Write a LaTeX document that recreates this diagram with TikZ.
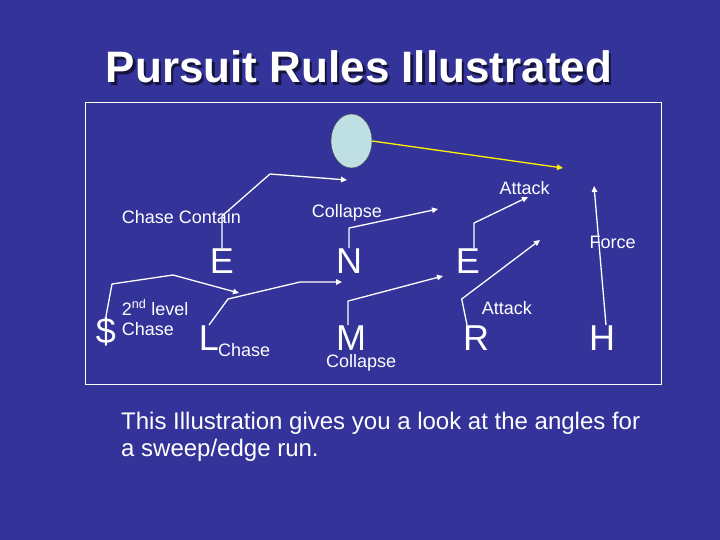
\documentclass[tikz,border=0pt]{standalone}
\usepackage{fontspec}
\setmainfont{Liberation Sans}
\usepackage{xcolor}
\usetikzlibrary{arrows.meta,positioning,shapes.geometric}
\definecolor{slideblue}{RGB}{51,51,153}
\definecolor{balllight}{RGB}{190,224,226}
\tikzset{>={Triangle[length=6pt,width=5.5pt]}}

\begin{document}
\begin{tikzpicture}[x=1pt, y=-1pt,
  player/.style={text=white, font=\fontsize{36}{36}\selectfont, inner sep=0pt, text depth=0pt, anchor=base},
  tag/.style={text=white, font=\fontsize{18}{20}\selectfont, inner sep=0pt, anchor=base west},
  route/.style={->, white, line width=1.3pt, line join=round}]
  % Slide and frame
  \fill[slideblue] (0,0) rectangle (720,540);
  \draw[white, line width=1pt] (85,103) rectangle (661,384);

  % Title
  \node[text=black!60!slideblue, font=\bfseries\fontsize{44}{44}\selectfont, anchor=base] at (361.5,85.5) {Pursuit Rules Illustrated};
  \node[text=white, font=\bfseries\fontsize{44}{44}\selectfont, anchor=base] (title) at (359,83) {Pursuit Rules Illustrated};

  % Ball and players
  \node[draw=black!70, fill=balllight, ellipse, minimum width=41pt, minimum height=54pt, inner sep=0pt] (ball) at (351.5,141) {};
  \node[player] (E1) at (222,273) {E};
  \node[player] (N) at (349,273) {N};
  \node[player] (E2) at (468,273) {E};
  \node[player] (S) at (106,343) {\$};
  \node[player] (L) at (209,350) {L};
  \node[player] (M) at (351,350) {M};
  \node[player] (R) at (476,350) {R};
  \node[player] (H) at (602,350) {H};

  % Route ends
  \coordinate (e1tip) at (347,180);
  \coordinate (stip) at (239,293);
  \coordinate (ltip) at (342,282);
  \coordinate (mtip) at (443,276);
  \coordinate (ntip) at (438,209);
  \coordinate (e2tip) at (528,197);
  \coordinate (rtip) at (540,240);
  \coordinate (htip) at (594,186);
  \coordinate (balltip) at (563,168);

  % Routes
  \draw[route] (E1.north) -- ++(0,-32) -- (270,174) -- (e1tip);
  \draw[route] (S.north) -- (112,284) -- (173,275) -- (stip);
  \draw[route] (L.north) -- (228,299) -- (300,282) -- (ltip);
  \draw[route] ([xshift=-3pt]M.north) -- ++(0,-24) -- (mtip);
  \draw[route] (N.north) -- ++(0,-20) -- (ntip);
  \draw[route] ([xshift=6pt]E2.north) -- ++(0,-25) -- (e2tip);
  \draw[route] ([xshift=-9pt]R.north) -- (461.7,299) -- (rtip);
  \draw[route] ([xshift=4pt]H.north) -- (htip);
  \draw[route, yellow] (ball.east) -- (balltip);

  % Labels
  \node[tag] (chasecontain) at (121.7,224) {Chase Contain};
  \node[tag] (collapsetop) at (311.7,218) {Collapse};
  \node[tag] (attacktop) at (499.3,195) {Attack};
  \node[tag] (force) at (589.3,248.3) {Force};
  \node[tag] (level) at (121.7,315) {2\textsuperscript{nd} level};
  \node[tag] (chaselevel) at (121.7,335) {Chase};
  \node[tag] (chasel) at (218,356) {Chase};
  \node[tag] (attackbot) at (481.7,314.3) {Attack};
  \node[tag] (collapsebot) at (326,367) {Collapse};

  % Caption
  \node[text=white, font=\fontsize{24}{27.7}\selectfont, anchor=base west, inner sep=0pt] (caption1) at (121,429) {This Illustration gives you a look at the angles for};
  \node[text=white, font=\fontsize{24}{27.7}\selectfont, anchor=base west, inner sep=0pt] (caption2) at (121,456.7) {a sweep/edge run.};
\end{tikzpicture}
\end{document}
